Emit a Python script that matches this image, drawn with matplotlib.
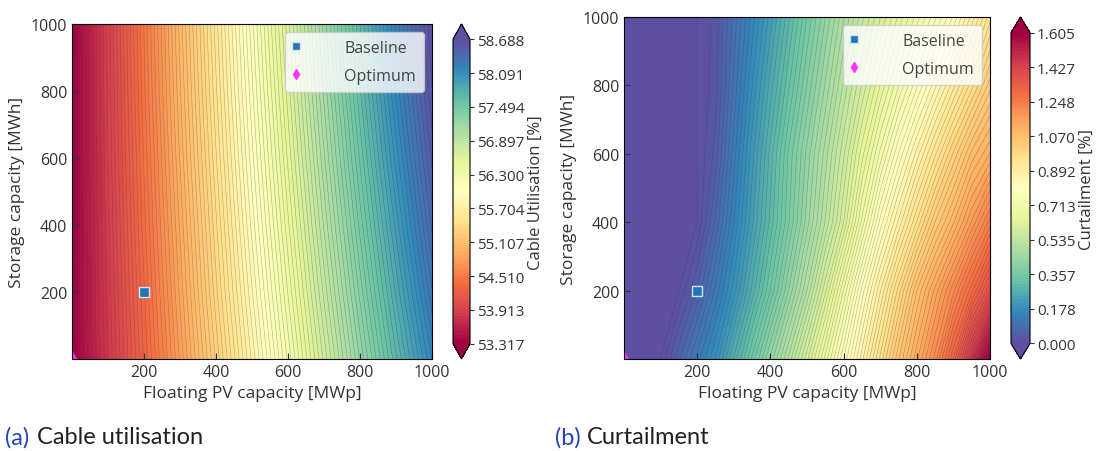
import numpy as np
import matplotlib.pyplot as plt

plt.rcParams['font.family'] = ['Open Sans', 'DejaVu Sans']
plt.rcParams['font.size'] = 10
plt.rcParams['text.color'] = '#333333'
plt.rcParams['axes.labelcolor'] = '#333333'
plt.rcParams['xtick.color'] = '#333333'
plt.rcParams['ytick.color'] = '#333333'

# grids of the design space
pv_cap = [0, 100, 200, 300, 400, 500, 600, 700, 800, 900, 1000]      # MWp
pv_cap_fine = [0, 50, 100, 150, 200, 250, 300, 350, 400, 450, 500,
               550, 600, 650, 700, 750, 800, 850, 900, 950, 1000]    # MWp
storage_cap = [0, 200, 400, 600, 800, 1000]                           # MWh

# cable utilisation [%], one row per storage capacity (on pv_cap)
util_rows = [
    [53.3166, 53.80, 54.30, 54.79, 55.28, 55.77, 56.26, 56.75, 57.23, 57.70, 58.15],
    [53.3166, 53.82, 54.34, 54.85, 55.36, 55.86, 56.36, 56.86, 57.35, 57.83, 58.30],
    [53.3166, 53.84, 54.38, 54.90, 55.42, 55.94, 56.45, 56.96, 57.46, 57.95, 58.43],
    [53.3166, 53.86, 54.41, 54.95, 55.48, 56.01, 56.53, 57.05, 57.56, 58.06, 58.54],
    [53.3166, 53.87, 54.44, 54.99, 55.53, 56.07, 56.60, 57.13, 57.65, 58.16, 58.63],
    [53.3166, 53.88, 54.46, 55.02, 55.57, 56.12, 56.66, 57.19, 57.71, 58.21, 58.6876],
]

# curtailment [%], one row per storage capacity (on pv_cap_fine)
curt_rows = [
    [0, 0, 0, 0.061, 0.120, 0.180, 0.262, 0.344, 0.426, 0.507, 0.595,
     0.687, 0.778, 0.869, 0.961, 1.052, 1.131, 1.207, 1.315, 1.460, 1.605],
    [0, 0, 0, 0, 0.050, 0.117, 0.186, 0.264, 0.341, 0.422, 0.503,
     0.596, 0.698, 0.800, 0.890, 0.980, 1.070, 1.141, 1.212, 1.292, 1.380],
    [0, 0, 0, 0, 0, 0.068, 0.145, 0.223, 0.297, 0.371, 0.446,
     0.520, 0.599, 0.702, 0.800, 0.879, 0.958, 1.038, 1.100, 1.170, 1.240],
    [0, 0, 0, 0, 0, 0.038, 0.122, 0.204, 0.282, 0.360, 0.427,
     0.494, 0.564, 0.641, 0.718, 0.795, 0.866, 0.937, 1.008, 1.075, 1.120],
    [0, 0, 0, 0, 0, 0.024, 0.101, 0.178, 0.250, 0.321, 0.390,
     0.456, 0.522, 0.585, 0.649, 0.712, 0.775, 0.838, 0.902, 0.966, 1.030],
    [0, 0, 0, 0, 0, 0.022, 0.087, 0.152, 0.219, 0.288, 0.357,
     0.421, 0.484, 0.546, 0.599, 0.652, 0.705, 0.758, 0.814, 0.882, 0.950],
]

baseline = (200, 200)
optimum = (0, 0)
ticks_xy = [200, 400, 600, 800, 1000]

W, H = 1097, 452
fig = plt.figure(figsize=(W / 100, H / 100), dpi=100)

def px(x0, y0, x1, y1):
    # pixel box -> figure fraction
    return [x0 / W, 1 - y1 / H, (x1 - x0) / W, (y1 - y0) / H]

def panel(ax_box, cb_box, xs, z, cmap, cb_label, letter, caption, cap_x):
    ax = fig.add_axes(px(*ax_box))
    cax = fig.add_axes(px(*cb_box))
    X, Y = np.meshgrid(xs, storage_cap)
    Z = np.array(z, dtype=float)
    levels = np.linspace(Z.min(), Z.max(), 100)
    cf = ax.contourf(X, Y, Z, levels=levels, cmap=cmap, extend='both')
    ax.contour(X, Y, Z, levels=levels, colors='#303030', linewidths=0.4, alpha=0.35)
    ax.plot(*baseline, 's', color='#1f77b4', markersize=7, markeredgecolor='#cfe3f2',
            markeredgewidth=1, linestyle='none', label='Baseline')
    ax.plot(*optimum, 'd', color='#ff33ff', markersize=7, linestyle='none',
            label='Optimum')
    ax.set_xlim(0, 1000)
    ax.set_ylim(0, 1000)
    ax.set_xticks(ticks_xy)
    ax.set_yticks(ticks_xy)
    ax.tick_params(direction='in', length=4, labelsize=11.5)
    ax.set_xlabel('Floating PV capacity [MWp]', fontsize=12.5)
    ax.set_ylabel('Storage capacity [MWh]', fontsize=12.5)
    leg = ax.legend(loc='upper right', fontsize=11.5, markerscale=0.75,
                    handlelength=0.4, handletextpad=2.8, borderpad=0.5,
                    labelspacing=0.75, framealpha=0.8, fancybox=True)
    leg.get_frame().set_edgecolor('#cccccc')
    for t in leg.get_texts():
        t.set_color('#444444')
    tick_vals = np.linspace(Z.min(), Z.max(), 10)
    cb = fig.colorbar(cf, cax=cax, extend='both')
    cb.set_ticks(tick_vals)
    cb.ax.set_yticklabels(['%.3f' % v for v in tick_vals])
    cb.ax.tick_params(labelsize=11, length=3, pad=2)
    cb.set_label(cb_label, fontsize=12, labelpad=2)
    cb.outline.set_linewidth(0.8)
    fig.text(cap_x / W, 1 - 438 / H, letter, color='#2346b4', fontsize=17,
             family=['Lato', 'DejaVu Sans'], va='center')
    fig.text((cap_x + 32) / W, 1 - 438 / H, caption, color='#222222', fontsize=17,
             family=['Lato', 'DejaVu Sans'], va='center')
    return ax

panel((72, 25, 432, 360), (453, 25, 470, 360), pv_cap, util_rows, 'Spectral',
      'Cable Utilisation [%]', '(a)', 'Cable utilisation', 5)
panel((624, 18, 990, 360), (1011, 18, 1030, 360), pv_cap_fine, curt_rows, 'Spectral_r',
      'Curtailment [%]', '(b)', 'Curtailment', 555)

fig.savefig('out.png', dpi=100)
